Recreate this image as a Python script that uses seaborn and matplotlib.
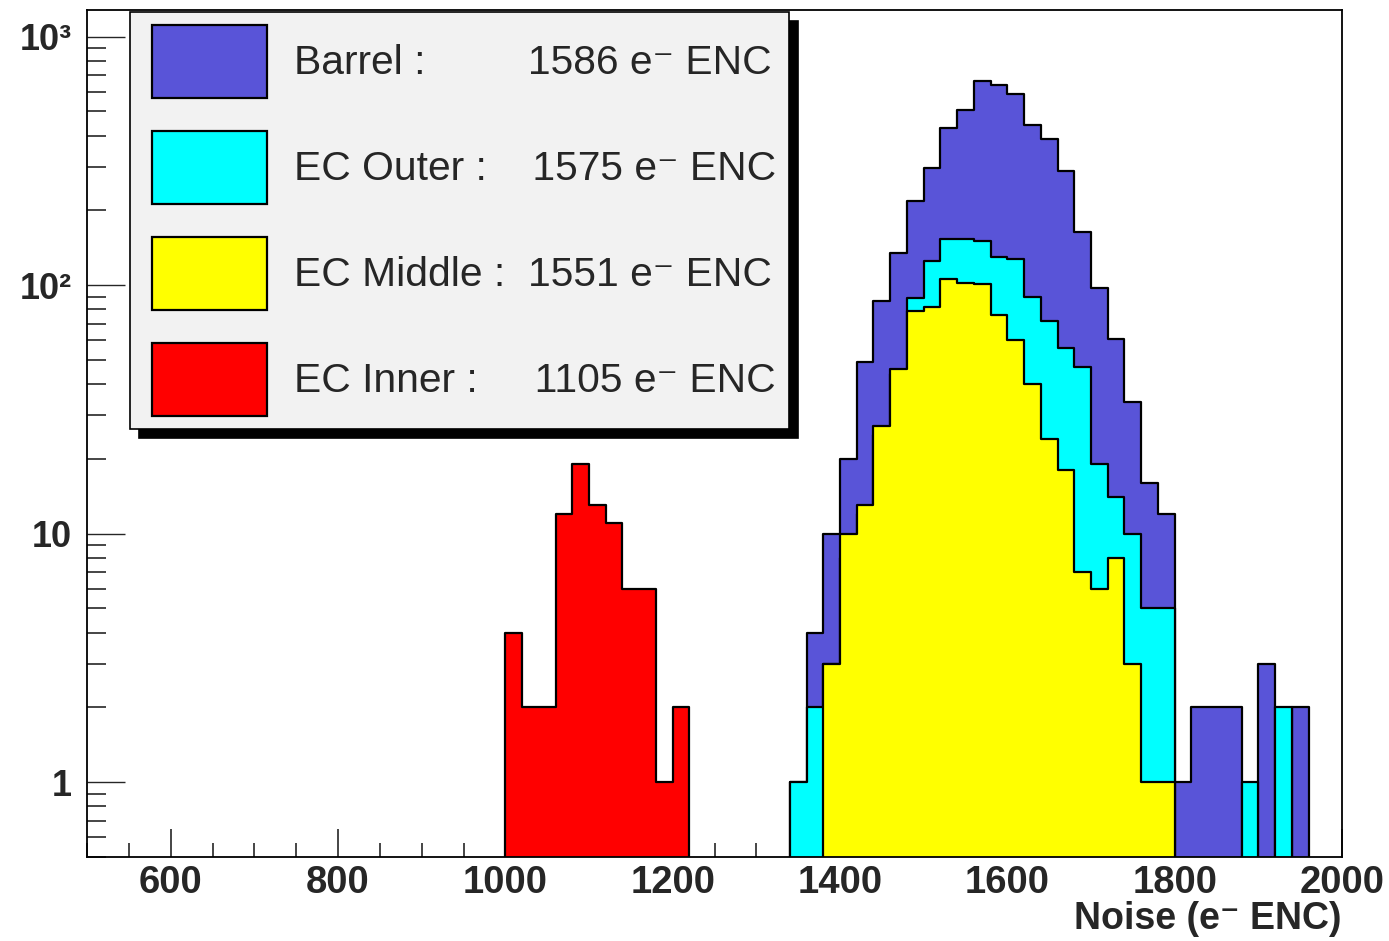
import matplotlib
matplotlib.use("Agg")
import matplotlib.pyplot as plt
from matplotlib.ticker import MultipleLocator, LogLocator, FixedLocator, FixedFormatter, NullFormatter
import numpy as np
import pandas as pd
import seaborn as sns

# lower bin edges (e- ENC, 20 wide) and entries per bin
barrel_bins = [1340, 1360, 1380, 1400, 1420, 1440, 1460, 1480, 1500, 1520,
               1540, 1560, 1580, 1600, 1620, 1640, 1660, 1680, 1700, 1720,
               1740, 1760, 1780, 1800, 1820, 1840, 1860, 1880, 1900, 1920, 1940]
barrel_counts = [1, 4, 10, 20, 49, 86, 135, 219, 296, 428,
                 508, 661, 638, 589, 439, 386, 288, 163, 97, 61,
                 34, 16, 12, 1, 2, 2, 2, 0, 3, 0, 2]

outer_bins = barrel_bins
outer_counts = [1, 2, 3, 8, 12, 25, 44, 89, 125, 154,
                154, 150, 130, 127, 90, 72, 56, 47, 19, 14,
                10, 5, 5, 0, 0, 0, 0, 1, 0, 2, 0]

middle_bins = [1380, 1400, 1420, 1440, 1460, 1480, 1500, 1520, 1540, 1560,
               1580, 1600, 1620, 1640, 1660, 1680, 1700, 1720, 1740, 1760, 1780]
middle_counts = [3, 10, 13, 27, 46, 79, 82, 106, 102, 101,
                 76, 60, 40, 24, 18, 7, 6, 8, 3, 1, 1]

inner_bins = [1000, 1020, 1040, 1060, 1080, 1100, 1120, 1140, 1160, 1180, 1200]
inner_counts = [4, 2, 2, 12, 19, 13, 11, 6, 6, 1, 2]

labels = ["Barrel :         1586 e\u207b ENC",
          "EC Outer :    1575 e\u207b ENC",
          "EC Middle :  1551 e\u207b ENC",
          "EC Inner :     1105 e\u207b ENC"]
colors = ["#5954d8", "#00ffff", "#ffff00", "#ff0000"]

yticks = [1, 10, 100, 1000]
ytick_labels = ["1", "10", "10\u00b2", "10\u00b3"]

sns.set_style("ticks")
plt.rcParams["font.family"] = ["Liberation Sans", "DejaVu Sans"]

fig = plt.figure(figsize=(13.89, 9.41), dpi=100)
ax = fig.add_axes([87/1389, 84/941, 1255/1389, 847/941])

series = [(barrel_bins, barrel_counts), (outer_bins, outer_counts),
          (middle_bins, middle_counts), (inner_bins, inner_counts)]
for (bins, counts), col, lab in zip(series, colors, labels):
    df = pd.DataFrame({"noise": np.array(bins) + 10, "n": counts})
    sns.histplot(data=df, x="noise", weights="n", binwidth=20,
                 binrange=(bins[0], bins[-1] + 20), element="step", fill=True,
                 color=col, alpha=1, edgecolor="black", linewidth=1.6,
                 label=lab, ax=ax)

ax.set_yscale("log")
ax.set_xlim(500, 2000)
ax.set_ylim(0.5, 1280)

ax.xaxis.set_major_locator(MultipleLocator(200))
ax.xaxis.set_minor_locator(MultipleLocator(50))
ax.yaxis.set_major_locator(FixedLocator(yticks))
ax.yaxis.set_major_formatter(FixedFormatter(ytick_labels))
ax.yaxis.set_minor_locator(LogLocator(base=10, subs=np.arange(2, 10), numticks=20))
ax.yaxis.set_minor_formatter(NullFormatter())

ax.tick_params(axis="x", which="major", direction="in", length=20, width=1.2,
               labelsize=27.5, pad=6, top=False)
ax.tick_params(axis="x", which="minor", direction="in", length=10, width=1.2, top=False)
ax.tick_params(axis="y", which="major", direction="in", length=27, width=1.0,
               labelsize=26, pad=11, right=False)
ax.tick_params(axis="y", which="minor", direction="in", length=14, width=1.2, right=False)
for t in ax.get_xticklabels() + ax.get_yticklabels():
    t.set_fontweight("bold")

for s in ax.spines.values():
    s.set_linewidth(1.3)
    s.set_color("black")

ax.set_ylabel("")
ax.set_xlabel("Noise (e\u207b ENC)", fontsize=27, fontweight="bold", loc="right", labelpad=0)

leg = ax.legend(loc="upper left", bbox_to_anchor=(130/1389, 1 - 12/941),
                bbox_transform=fig.transFigure, borderaxespad=0, fontsize=29.3,
                handlelength=2.83, handleheight=2.383, labelspacing=0.81,
                handletextpad=0.88, borderpad=0.32, fancybox=False,
                framealpha=1, edgecolor="black",
                shadow={"ox": 6.5, "oy": -6.5, "facecolor": "black", "edgecolor": "black", "alpha": 1})
leg.get_frame().set_facecolor("#f2f2f2")
leg.get_frame().set_linewidth(1.2)
# nudge the colour boxes right, as in the ROOT legend
for h in leg.legend_handles:
    h.set_x(h.get_x() + 6.5)

fig.savefig("out.png", dpi=100)
